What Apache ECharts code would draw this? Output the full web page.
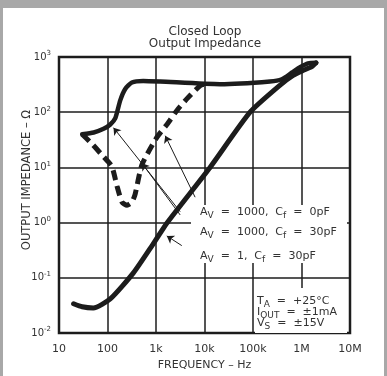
<!DOCTYPE html>
<html>
<head>
<meta charset="utf-8">
<script src="https://cdn.jsdelivr.net/npm/echarts@6/dist/echarts.min.js"></script>
<style>
html, body { margin: 0; padding: 0; background: #fff; }
#chart { width: 387px; height: 376px; }
</style>
</head>
<body>
<div id="chart"></div>
<script>
// A_V = 1, C_f = 30pF
const av1Freq = [20, 30, 51, 114, 339, 870, 1700, 13000, 87000, 363000, 670000, 1070000, 1630000, 2000000];
const av1Z = [0.034, 0.030, 0.0286, 0.0416, 0.122, 0.41, 1.0, 10, 100, 310, 464, 568, 668, 785];

// A_V = 1000, C_f = 0pF
const cf0Freq = [30, 52, 83, 114, 145, 183, 232, 318, 545, 1220, 21000, 224000, 392000, 638000, 933000, 1360000, 2000000];
const cf0Z = [40, 43, 50, 60, 78, 164, 264, 345, 369, 360, 322, 360, 395, 524, 654, 769, 785];

// A_V = 1000, C_f = 30pF (dashed)
const cf30Freq = [30, 48, 83, 123, 157, 199, 253, 319, 372, 512, 1040, 1680, 2900, 4700, 8100, 11000];
const cf30Z = [40, 26.7, 15.6, 10.4, 4.6, 2.36, 2.07, 2.36, 3.3, 11.1, 35, 60, 117, 188, 301, 330];

// leader lines: [label side], [curve side]
const leaderFrom = [[3150, 1.58], [3150, 1.38], [6400, 2.89], [3400, 0.384]];
const leaderTo = [[133, 52.4], [513, 11.9], [1550, 37.5], [1670, 0.575]];

const xTickValues = [10, 100, 1000, 10000, 100000, 1000000, 10000000];
const xTickLabels = ['10', '100', '1k', '10k', '100k', '1M', '10M'];

const ink = '#1c1c1c';
const textInk = '#333';
const font = 'DejaVu Sans';

const pairs = (xs, ys) => xs.map((x, i) => [x, ys[i]]);

const chart = echarts.init(document.getElementById('chart'));

const sub = { fontSize: 9, fontFamily: font, color: textInk, padding: [6, 0, 0, 0] };
const base = { fontSize: 11, fontFamily: font, color: textInk };

function label(x, y, text) {
  return {
    type: 'text', x: x, y: y, z: 5,
    style: { text: text, fontSize: 11, fontFamily: font, fill: textInk, rich: { s: sub, b: base } }
  };
}

chart.setOption({
  backgroundColor: '#fff',
  animation: false,
  title: {
    text: 'Closed Loop\nOutput Impedance',
    left: 200,
    top: 21,
    textAlign: 'center',
    textStyle: { fontFamily: font, fontSize: 12, fontWeight: 'normal', color: textInk, lineHeight: 12 }
  },
  grid: {
    left: 59, right: 37, top: 57, bottom: 34,
    show: true, borderColor: ink, borderWidth: 2.5, backgroundColor: 'transparent'
  },
  xAxis: {
    type: 'log', logBase: 10, min: 10, max: 1e7,
    axisLine: { show: false }, axisTick: { show: false },
    splitLine: { show: true, lineStyle: { color: ink, width: 1.5 } },
    axisLabel: {
      margin: 11, fontFamily: font, fontSize: 11, color: textInk,
      formatter: v => xTickLabels[xTickValues.indexOf(Math.round(v))] || ''
    },
    name: 'FREQUENCY – Hz', nameLocation: 'middle', nameGap: 24,
    nameTextStyle: { fontFamily: font, fontSize: 11, color: textInk }
  },
  yAxis: {
    type: 'log', logBase: 10, min: 0.01, max: 1000,
    axisLine: { show: false }, axisTick: { show: false },
    splitLine: { show: true, lineStyle: { color: ink, width: 1.5 } },
    axisLabel: {
      margin: 8,
      formatter: v => '{b|10}{p|' + Math.round(Math.log10(v)) + '}',
      rich: {
        b: { fontFamily: font, fontSize: 10, color: textInk },
        p: { fontFamily: font, fontSize: 7, color: textInk, padding: [0, 0, 7, 0] }
      }
    }
  },
  graphic: [
    // scanned page edge
    { type: 'rect', shape: { x: 0, y: 0, width: 387, height: 8 }, style: { fill: '#a8a8a8' }, z: 10 },
    { type: 'rect', shape: { x: 0, y: 0, width: 3, height: 376 }, style: { fill: '#a8a8a8' }, z: 10 },
    { type: 'rect', shape: { x: 384, y: 0, width: 3, height: 376 }, style: { fill: '#a8a8a8' }, z: 10 },
    // white patches behind the annotations
    { type: 'rect', shape: { x: 191, y: 205, width: 156, height: 58 }, style: { fill: '#fff' }, z: 1 },
    { type: 'rect', shape: { x: 255, y: 288, width: 92, height: 45 }, style: { fill: '#fff' }, z: 1 },
    {
      type: 'text', x: 27, y: 180, rotation: Math.PI / 2, z: 5,
      style: { text: 'OUTPUT IMPEDANCE – Ω', fontSize: 11.5, fontFamily: font, fill: textInk, align: 'center', verticalAlign: 'middle' }
    },
    label(200, 205, '{b|A}{s|V}{b|  =  1000,  C}{s|f}{b|  =  0pF}'),
    label(200, 225, '{b|A}{s|V}{b|  =  1000,  C}{s|f}{b|  =  30pF}'),
    label(200, 249, '{b|A}{s|V}{b|  =  1,  C}{s|f}{b|  =  30pF}'),
    label(257, 294, '{b|T}{s|A}{b|  =  +25°C}'),
    label(257, 305, '{b|I}{s|OUT}{b|  =  ±1mA}'),
    label(257, 316, '{b|V}{s|S}{b|  =  ±15V}')
  ],
  series: [
    {
      name: 'AV=1000, Cf=0pF', type: 'line', data: pairs(cf0Freq, cf0Z),
      showSymbol: false, smooth: 0.2, z: 3,
      lineStyle: { color: ink, width: 4.5, cap: 'round' }
    },
    {
      name: 'AV=1000, Cf=30pF', type: 'line', data: pairs(cf30Freq, cf30Z),
      showSymbol: false, smooth: 0.2, z: 3,
      lineStyle: { color: ink, width: 5, type: [10, 6] }
    },
    {
      name: 'AV=1, Cf=30pF', type: 'line', data: pairs(av1Freq, av1Z),
      showSymbol: false, smooth: 0.2, z: 3,
      lineStyle: { color: ink, width: 5, cap: 'round' }
    },
    {
      type: 'lines', coordinateSystem: 'cartesian2d', z: 4,
      symbol: ['none', 'arrow'], symbolSize: 7,
      lineStyle: { color: ink, width: 1, opacity: 1 },
      data: leaderFrom.map((p, i) => ({ coords: [p, leaderTo[i]] }))
    }
  ]
});
</script>
</body>
</html>
